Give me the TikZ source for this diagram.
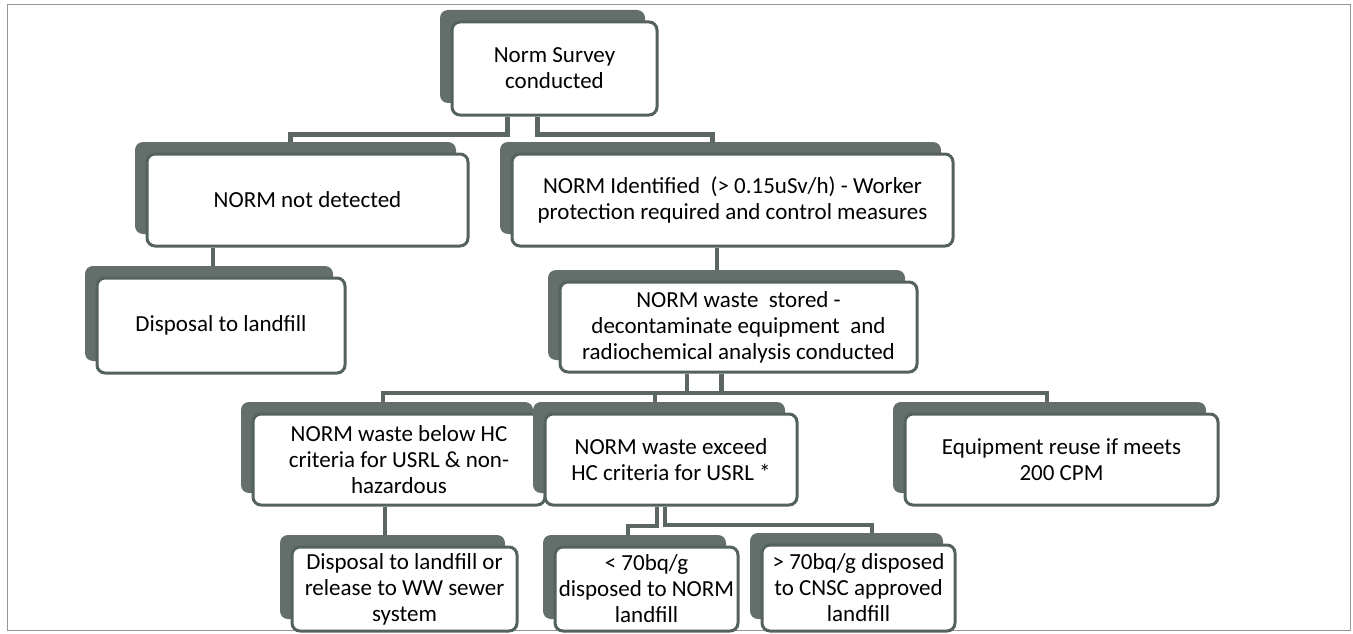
\documentclass[tikz,border=0pt]{standalone}
\usepackage{fontspec}
\setmainfont{Carlito}
\usetikzlibrary{positioning, calc, shadows, backgrounds}

\definecolor{boxgray}{RGB}{84,98,93}
\definecolor{shadegray}{RGB}{100,110,106}
\definecolor{linegray}{RGB}{92,102,98}
\definecolor{framegray}{RGB}{150,150,150}

\begin{document}
\begin{tikzpicture}[x=1pt, y=-1pt,
    stepbox/.style={draw=boxgray, line width=3pt, fill=white, rounded corners=8pt,
        align=center, inner sep=0pt, font=\fontsize{23pt}{26pt}\selectfont,
        general shadow={fill=shadegray, shadow xshift=-12pt, shadow yshift=12pt}},
    link/.style={draw=linegray, line width=4.5pt}]
    \useasboundingbox (0,0) rectangle (1353,634);

    % Nodes
    \node[stepbox, minimum width=205pt, minimum height=93pt] (survey) at (554.5,68.5) {Norm Survey\\conducted};
    \node[stepbox, minimum width=321pt, minimum height=92pt] (notdet) at (307.5,200) {NORM not detected};
    \node[stepbox, minimum width=441pt, minimum height=92pt] (idnorm) at (732.5,200) {NORM Identified\ \ (> 0.15uSv/h) - Worker\\protection required and control measures};
    \node[stepbox, minimum width=248pt, minimum height=95pt] (disposal) at (221,325.5) {Disposal to landfill};
    \node[stepbox, minimum width=357pt, minimum height=90pt] (stored) at (738.5,327) {NORM waste\ \ stored -\\decontaminate equipment\ \ and\\radiochemical analysis conducted};
    \node[stepbox, minimum width=292pt, minimum height=91pt] (below) at (399,459.5) {NORM waste below HC\\criteria for USRL \& non-\\hazardous};
    \node[stepbox, minimum width=252pt, minimum height=91pt] (exceed) at (671,459.5) {NORM waste exceed\\HC criteria for USRL *};
    \node[stepbox, minimum width=313pt, minimum height=91pt] (equip) at (1061.5,459.5) {Equipment reuse if meets\\200 CPM};
    \node[stepbox, minimum width=225pt, minimum height=84pt] (dispww) at (404.5,589) {Disposal to landfill or\\release to WW sewer\\system};
    \node[stepbox, minimum width=183pt, minimum height=84pt] (less) at (646.5,589) {< 70bq/g\\disposed to NORM\\landfill};
    \node[stepbox, minimum width=193pt, minimum height=86pt] (greater) at (858.5,588) {> 70bq/g disposed\\to CNSC approved\\landfill};

    % Connections
    \begin{scope}[on background layer]
        \draw[framegray, line width=1pt] (7,5) rectangle (1350,630);
        \draw[link] ([xshift=-47pt]survey.south) |- ($(survey.south)!.5!(notdet.north)$) -| ([xshift=-17pt]notdet.north);
        \draw[link] ([xshift=-17pt]survey.south) |- ($(survey.south)!.5!(idnorm.north)$) -| ([xshift=-20pt]idnorm.north);
        \draw[link] ([xshift=-94.5pt]notdet.south) -- ([xshift=-8pt]disposal.north);
        \draw[link] ([xshift=-15.5pt]idnorm.south) -- ([xshift=-21.5pt]stored.north);
        \draw[link] ([xshift=-51.5pt]stored.south) |- ($(stored.south)!.5!(below.north)$) -| ([xshift=-16pt]below.north);
        \draw[link] ([xshift=-17pt]stored.south) |- ($(stored.south)!.5!(exceed.north)$) -| ([xshift=-16pt]exceed.north);
        \draw[link] ([xshift=-17pt]stored.south) |- ($(stored.south)!.5!(equip.north)$) -| ([xshift=-14.5pt]equip.north);
        \draw[link] ([xshift=-14pt]below.south) -- ([xshift=-19.5pt]dispww.north);
        \draw[link] ([xshift=-14pt]exceed.south) |- ($(exceed.south)!.5!(less.north)$) -| ([xshift=-18.5pt]less.north);
        \draw[link] ([xshift=-6pt]exceed.south) |- ($(exceed.south)!.5!(greater.north)$) -| ([xshift=13.5pt]greater.north);
    \end{scope}
\end{tikzpicture}
\end{document}
